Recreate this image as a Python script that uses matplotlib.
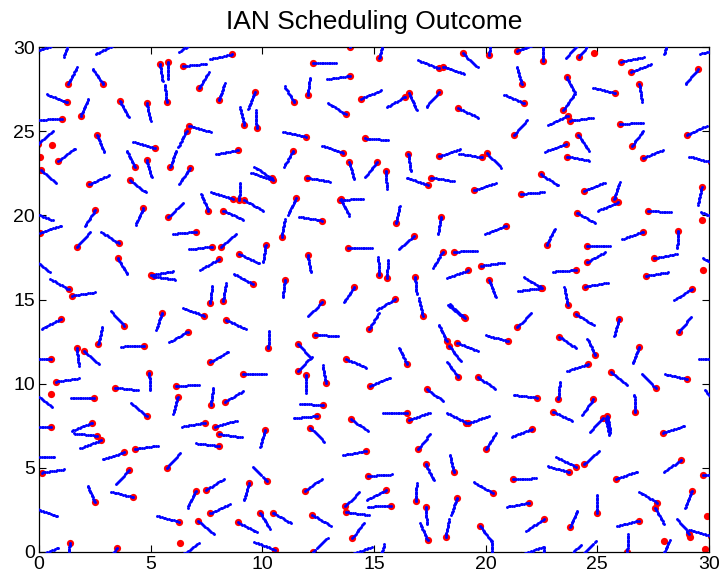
import numpy as np
import matplotlib
matplotlib.use("Agg")
import matplotlib.pyplot as plt

plt.rcParams['font.family'] = ['Liberation Sans', 'DejaVu Sans']

# Each link: transmitter dot (dot_x, dot_y) and the far end of its link (end_x, end_y)
links = [
    # upper-left block
    (-0.40, 29.65, 0.55, 30.05), (1.37, 30.44, 1.13, 29.47), (3.41, 30.15, 2.58, 29.60),
    (1.31, 27.82, 1.69, 28.77), (2.88, 27.78, 2.40, 28.71), (5.42, 28.99, 5.54, 27.94),
    (5.76, 29.13, 5.76, 28.08), (6.46, 28.87, 7.51, 28.99), (7.16, 27.54, 7.57, 28.44),
    (1.27, 26.71, 0.34, 27.19), (1.87, 25.92, 2.21, 26.89), (3.63, 26.79, 4.03, 25.80),
    (4.82, 26.65, 5.00, 25.60), (5.72, 26.73, 5.64, 27.74), (1.04, 25.72, -0.02, 25.68),
    (-0.06, 24.21, 0.60, 24.96), (0.87, 23.25, 1.61, 23.96), (2.61, 24.77, 2.91, 23.78),
    (5.19, 24.00, 4.25, 24.37), (4.30, 22.87, 3.93, 23.82), (4.82, 23.27, 5.04, 22.26),
    (5.87, 22.85, 6.16, 23.88), (6.61, 25.03, 6.24, 24.04), (6.73, 25.31, 7.66, 24.97),
    (6.76, 22.79, 6.27, 21.86), (2.25, 21.84, 3.13, 22.38), (4.07, 22.10, 4.81, 21.35),
    (0.09, 22.69, 0.76, 21.90), (2.51, 20.30, 2.06, 19.37), (4.67, 20.42, 4.34, 19.49),
    (5.79, 19.92, 6.46, 20.71), (7.58, 20.28, 7.28, 21.21), (7.03, 30.41, 6.31, 29.72),
    # upper-middle block
    (8.66, 29.56, 7.66, 29.29), (13.93, 29.98, 13.93, 31.00), (15.24, 29.33, 15.43, 30.31),
    (12.25, 29.05, 13.30, 29.05), (13.93, 28.28, 12.88, 28.08), (8.06, 26.83, 8.33, 27.88),
    (9.67, 27.31, 9.37, 26.29), (11.43, 26.71, 11.01, 27.64), (12.03, 27.15, 12.13, 28.14),
    (13.73, 26.00, 12.93, 26.69), (14.42, 26.93, 15.27, 27.39), (9.19, 25.39, 9.00, 26.40),
    (9.75, 25.19, 9.70, 26.22), (11.94, 24.67, 10.91, 24.97), (14.60, 24.57, 15.62, 24.47),
    (8.93, 23.88, 7.93, 23.62), (13.63, 23.72, 12.69, 24.12), (11.39, 23.84, 10.97, 22.89),
    (10.42, 22.20, 9.63, 22.89), (10.46, 22.10, 9.52, 22.53), (12.00, 22.24, 13.01, 22.00),
    (13.90, 23.15, 14.10, 22.14), (15.15, 23.15, 14.60, 22.30), (8.67, 20.99, 7.73, 21.37),
    (8.97, 20.89, 9.00, 21.94), (9.19, 20.89, 10.04, 20.28), (11.51, 21.01, 11.16, 20.08),
    (13.48, 20.91, 14.57, 20.99), (13.52, 20.95, 13.85, 20.08), (8.25, 20.28, 9.12, 19.76),
    # upper-centre-right block
    (18.97, 29.62, 19.63, 28.83), (17.91, 28.73, 17.01, 29.19), (18.10, 28.83, 19.07, 28.40),
    (20.16, 29.52, 20.22, 30.50), (21.39, 29.76, 22.29, 30.19), (22.58, 29.17, 22.58, 30.17),
    (21.61, 27.80, 21.39, 28.83), (16.40, 27.05, 15.57, 26.42), (16.57, 27.25, 16.91, 26.26),
    (17.93, 27.31, 17.36, 26.46), (18.78, 26.36, 19.67, 25.80), (21.73, 26.65, 20.84, 27.15),
    (21.28, 24.77, 21.84, 25.66), (17.91, 23.52, 18.88, 23.92), (19.85, 23.45, 18.85, 23.64),
    (20.07, 23.68, 20.69, 22.83), (16.54, 23.64, 16.64, 22.63), (15.54, 22.63, 15.57, 21.60),
    (17.54, 22.24, 18.55, 22.04), (17.40, 21.80, 16.46, 22.24), (19.48, 21.50, 20.45, 21.90),
    (21.57, 21.27, 22.58, 21.37), (22.46, 22.44, 23.28, 21.76), (15.99, 19.52, 16.16, 20.61),
    (18.00, 19.92, 17.88, 18.93),
    # upper-right block
    (24.18, 30.22, 23.63, 29.39), (24.20, 29.43, 24.69, 30.30), (26.06, 29.13, 27.09, 29.39),
    (26.50, 28.51, 27.43, 28.99), (28.22, 30.59, 28.00, 29.62), (30.60, 29.90, 29.62, 29.60),
    (29.49, 28.67, 28.96, 27.80), (23.63, 28.20, 24.00, 27.25), (23.48, 26.26, 24.00, 27.25),
    (25.81, 27.25, 24.82, 27.58), (26.88, 27.78, 27.01, 26.71), (23.67, 25.92, 22.81, 25.37),
    (23.78, 25.62, 24.79, 25.80), (26.01, 25.43, 27.06, 25.49), (29.00, 24.77, 29.89, 25.31),
    (24.15, 24.77, 24.63, 23.82), (23.60, 24.24, 22.66, 23.78), (26.55, 24.12, 27.06, 25.03),
    (23.63, 23.49, 24.67, 23.25), (27.03, 23.39, 27.93, 23.88), (30.10, 23.15, 29.13, 23.49),
    (24.42, 21.47, 25.34, 21.94), (25.75, 20.95, 25.99, 21.94), (25.94, 20.77, 25.04, 20.28),
    (29.67, 21.66, 29.52, 20.67), (24.07, 20.16, 24.93, 19.52), (27.25, 20.28, 28.30, 20.18),
    (30.55, 19.70, 29.67, 20.17),
    # middle-left block
    (-0.31, 20.19, 0.57, 19.72), (0.04, 18.97, 1.01, 19.39), (1.69, 18.14, 2.28, 18.99),
    (3.58, 18.34, 2.81, 18.99), (7.03, 19.03, 6.01, 18.89), (7.76, 18.14, 6.73, 17.98),
    (3.52, 17.45, 3.96, 16.51), (-0.25, 17.40, 0.45, 16.69), (5.01, 16.44, 6.06, 16.69),
    (5.09, 16.38, 6.01, 16.20), (8.07, 17.39, 7.24, 16.79), (1.34, 15.60, 0.52, 16.20),
    (1.49, 15.23, 2.51, 15.43), (0.97, 13.84, 0.12, 13.25), (3.82, 13.45, 3.22, 14.32),
    (5.52, 14.22, 5.24, 13.19), (7.40, 14.04, 6.46, 14.48), (6.66, 13.09, 5.84, 12.46),
    (2.66, 12.34, 2.84, 13.39), (4.72, 12.26, 3.70, 12.20), (1.69, 12.10, 1.79, 11.05),
    (2.01, 11.96, 2.66, 11.17), (0.54, 11.45, -0.50, 11.50), (7.66, 11.27, 8.48, 11.90),
    (0.76, 10.12, 1.79, 10.32), (4.94, 10.65, 4.97, 9.65), (6.12, 9.86, 7.16, 9.92),
    # middle block
    (12.66, 19.68, 11.66, 19.92), (10.87, 18.73, 11.01, 19.76), (8.13, 18.10, 8.82, 18.87),
    (10.15, 18.26, 10.04, 17.21), (8.97, 17.70, 9.85, 17.15), (12.03, 17.64, 12.18, 16.55),
    (13.85, 18.08, 14.90, 18.08), (15.24, 16.46, 15.19, 17.49), (15.57, 16.30, 15.64, 17.35),
    (9.57, 15.92, 8.75, 16.51), (11.01, 16.16, 10.91, 15.11), (7.66, 14.77, 7.76, 15.80),
    (8.25, 14.93, 8.37, 15.96), (14.12, 15.76, 13.67, 14.87), (12.69, 14.83, 12.03, 14.02),
    (8.37, 13.78, 9.27, 13.25), (14.78, 13.25, 15.22, 14.18), (15.94, 15.01, 15.12, 14.38),
    (12.36, 12.89, 13.37, 12.83), (10.27, 12.10, 10.31, 13.15), (11.58, 12.36, 12.18, 11.54),
    (11.58, 10.75, 12.18, 11.54), (13.75, 11.45, 14.67, 10.95), (9.12, 10.57, 10.16, 10.57),
    (11.94, 10.51, 11.96, 9.45), (12.84, 10.06, 12.70, 11.05), (14.82, 9.86, 15.70, 10.35),
    # middle-centre-right block
    (20.90, 19.39, 20.00, 18.89), (16.79, 18.77, 16.12, 17.98), (22.73, 18.24, 23.10, 19.23),
    (18.07, 17.84, 17.66, 16.91), (18.57, 17.84, 19.63, 17.88), (19.22, 16.73, 18.30, 16.30),
    (19.78, 16.99, 20.79, 17.19), (16.84, 16.36, 16.91, 15.33), (20.15, 16.14, 20.45, 15.13),
    (22.54, 15.68, 21.73, 16.30), (22.48, 15.68, 21.46, 15.50), (17.18, 14.04, 17.01, 15.07),
    (19.04, 13.94, 18.30, 14.67), (19.06, 13.90, 18.36, 14.77), (21.42, 13.35, 22.01, 14.18),
    (18.25, 12.53, 17.91, 13.49), (18.36, 12.24, 18.88, 11.35), (18.73, 12.44, 19.63, 11.94),
    (21.00, 12.53, 20.00, 12.87), (16.49, 11.15, 16.13, 12.10), (18.78, 10.38, 18.28, 11.27),
    (19.64, 10.38, 20.45, 9.70),
    # middle-right block
    (24.52, 18.20, 25.57, 18.20), (27.06, 19.03, 26.13, 18.59), (28.63, 19.09, 28.58, 18.04),
    (24.52, 17.21, 25.34, 17.80), (27.55, 17.45, 28.55, 17.70), (30.50, 16.78, 29.76, 17.45),
    (24.04, 16.75, 23.00, 16.65), (27.16, 16.40, 28.18, 16.61), (24.45, 15.76, 25.46, 16.00),
    (29.25, 15.64, 28.45, 14.97), (23.67, 14.69, 23.52, 15.72), (24.04, 14.14, 24.87, 13.45),
    (25.97, 13.84, 25.76, 12.83), (28.67, 13.09, 29.19, 13.98), (23.28, 12.79, 24.07, 12.10),
    (24.90, 11.70, 24.55, 12.69), (26.88, 12.20, 26.57, 11.17), (30.60, 11.47, 29.60, 11.47),
    (24.60, 11.17, 23.66, 10.75), (25.61, 10.67, 26.34, 9.92), (29.03, 10.28, 28.03, 10.55),
    (27.61, 9.76, 26.99, 10.57), (23.25, 9.07, 23.33, 10.12),
    # lower-left block
    (3.40, 9.76, 4.40, 9.62), (6.21, 9.23, 6.01, 8.20), (7.69, 8.73, 7.81, 9.78),
    (2.46, 9.17, 1.43, 9.13), (-0.15, 9.35, 0.57, 8.63), (4.82, 8.10, 4.15, 8.83),
    (0.52, 7.45, -0.50, 7.45), (2.39, 7.68, 1.46, 7.19), (2.58, 6.91, 1.54, 7.05),
    (2.78, 6.63, 1.84, 6.16), (7.43, 7.68, 6.43, 7.45), (8.06, 6.30, 7.01, 6.46),
    (3.81, 5.92, 2.85, 5.50), (4.30, 6.12, 5.31, 6.32), (-0.35, 5.66, 0.69, 5.66),
    (0.12, 4.71, 1.13, 4.91), (4.04, 4.87, 3.45, 4.04), (5.72, 5.01, 6.31, 5.86),
    (2.51, 2.95, 2.18, 3.92), (4.22, 3.25, 3.22, 3.58), (7.01, 3.62, 6.66, 2.65),
    (7.48, 3.68, 8.25, 4.32), (-0.12, 2.56, 0.79, 2.14), (6.27, 1.80, 5.27, 2.14),
    (7.13, 1.86, 7.85, 1.07), (7.66, 2.30, 8.55, 2.83), (1.39, 0.51, 1.27, -0.50),
    (3.48, 0.22, 3.00, -0.65), (-0.05, -0.25, 0.85, 0.25), (6.40, -0.20, 7.13, 0.51),
    # lower-middle block
    (8.33, 8.93, 9.18, 9.58), (12.73, 8.73, 11.72, 8.79), (12.43, 8.08, 11.42, 7.94),
    (7.88, 7.45, 8.85, 7.80), (8.06, 7.01, 9.07, 6.81), (10.12, 7.25, 9.90, 6.22),
    (12.15, 7.39, 12.78, 6.55), (13.97, 7.90, 14.72, 7.19), (14.63, 6.00, 13.63, 5.76),
    (10.19, 4.22, 9.60, 5.07), (9.40, 4.08, 9.18, 3.05), (11.91, 3.64, 12.66, 4.34),
    (14.75, 4.51, 15.79, 4.61), (15.54, 3.68, 14.67, 3.09), (15.75, 2.73, 14.67, 2.69),
    (13.70, 2.73, 14.30, 3.49), (13.75, 2.36, 14.75, 2.20), (9.90, 2.34, 10.34, 1.37),
    (10.46, 2.34, 11.31, 1.70), (8.90, 1.76, 9.85, 1.11), (12.24, 2.20, 13.07, 1.56),
    (14.03, 0.81, 14.53, 1.70), (10.57, 0.12, 9.63, 0.61), (12.28, 0.02, 12.93, 0.85),
    (13.95, -0.15, 14.99, 0.33),
    # lower-centre-right block
    (17.36, 9.68, 18.10, 8.97), (22.28, 9.17, 21.28, 9.33), (16.46, 8.28, 15.42, 8.24),
    (16.57, 7.84, 17.54, 8.30), (19.12, 7.68, 18.25, 8.28), (19.20, 7.64, 20.15, 8.08),
    (22.09, 7.31, 21.16, 6.85), (16.98, 6.12, 17.54, 7.05), (20.01, 6.10, 20.45, 7.05),
    (17.31, 5.23, 17.69, 4.22), (18.58, 4.73, 18.40, 5.76), (21.21, 4.32, 22.28, 4.38),
    (23.75, 4.73, 22.76, 5.11), (24.04, 5.07, 23.18, 5.62), (20.31, 3.52, 19.48, 4.12),
    (16.88, 3.03, 16.91, 4.08), (17.33, 2.69, 17.36, 1.66), (18.73, 3.23, 18.45, 2.20),
    (21.96, 2.93, 20.97, 2.69), (22.61, 1.94, 21.81, 1.27), (17.40, 0.71, 17.06, 1.70),
    (18.21, 0.91, 18.36, 1.90), (19.75, 1.54, 20.27, 0.61), (20.29, -0.40, 20.27, 0.60),
    (15.20, -0.55, 15.46, 0.42), (21.60, -0.15, 22.63, 0.32), (22.55, -0.75, 22.60, 0.25),
    # lower-right block
    (30.40, 8.75, 29.85, 9.55), (24.82, 9.07, 24.34, 8.18), (26.69, 8.30, 26.66, 9.33),
    (23.00, 8.34, 23.90, 7.78), (25.27, 7.98, 24.64, 7.11), (25.45, 8.10, 25.60, 6.99),
    (25.37, 7.98, 25.52, 7.05), (27.93, 7.09, 28.90, 7.49), (24.42, 5.21, 25.07, 6.02),
    (25.84, 4.34, 26.76, 4.77), (28.75, 5.47, 28.00, 4.77), (29.72, 4.55, 30.75, 4.55),
    (27.69, 2.93, 26.91, 3.54), (27.58, 2.63, 28.00, 1.64), (29.22, 3.62, 28.93, 2.63),
    (24.97, 2.34, 24.97, 3.35), (23.78, 1.47, 24.10, 2.44), (26.87, 1.86, 25.91, 1.56),
    (29.12, 1.07, 28.61, 1.90), (30.10, 0.95, 29.13, 1.31), (26.34, 0.02, 26.39, 1.07),
    (24.30, -0.20, 24.90, 0.60), (23.60, -0.40, 24.25, 0.38), (27.90, -0.30, 28.23, 0.67),
]
dot_x = np.array([l[0] for l in links])
dot_y = np.array([l[1] for l in links])
end_x = np.array([l[2] for l in links])
end_y = np.array([l[3] for l in links])

# Nodes that were not scheduled a link
idle_x = [0.60, 0.04, 24.85, 29.67, 29.75, 0.52, 6.31, 29.93, 29.16, 28.00, 29.82]
idle_y = [24.16, 23.49, 29.66, 19.72, 16.75, 9.39, 0.51, 2.16, 0.87, 0.65, 0.16]

LINK_LEN = 1.04
N_PTS = 14

x_ticks = [0, 5, 10, 15, 20, 25, 30]
y_ticks = [0, 5, 10, 15, 20, 25, 30]

fig = plt.figure(figsize=(7.22, 5.76), dpi=100)
ax = fig.add_axes([39 / 722, 24 / 576, 670 / 722, 505 / 576])

# red transmitter dots
ax.plot(np.concatenate([dot_x, idle_x]), np.concatenate([dot_y, idle_y]),
        linestyle='none', marker='o', ms=5.2, mfc=(1, 0, 0), mec=(1, 0, 0),
        mew=0, zorder=2)

# dotted blue links of fixed length along each read direction
dx = end_x - dot_x
dy = end_y - dot_y
norm = np.hypot(dx, dy)
ux, uy = dx / norm, dy / norm
t = np.linspace(0.0, LINK_LEN, N_PTS)
px = (dot_x[:, None] + ux[:, None] * t[None, :]).ravel()
py = (dot_y[:, None] + uy[:, None] * t[None, :]).ravel()
ax.plot(px, py, linestyle='none', marker='o', ms=2.1, mfc=(0, 0, 1),
        mec=(0, 0, 1), mew=0, zorder=3)

ax.set_xlim(0, 30)
ax.set_ylim(0, 30)
ax.set_xticks(x_ticks)
ax.set_yticks(y_ticks)
ax.tick_params(direction='in', length=5, width=0.8, top=True, right=True,
               labelsize=14, pad=3)
for s in ax.spines.values():
    s.set_linewidth(0.9)
ax.set_title('IAN Scheduling Outcome', fontsize=19, pad=13)

fig.savefig('out.png', dpi=100)
